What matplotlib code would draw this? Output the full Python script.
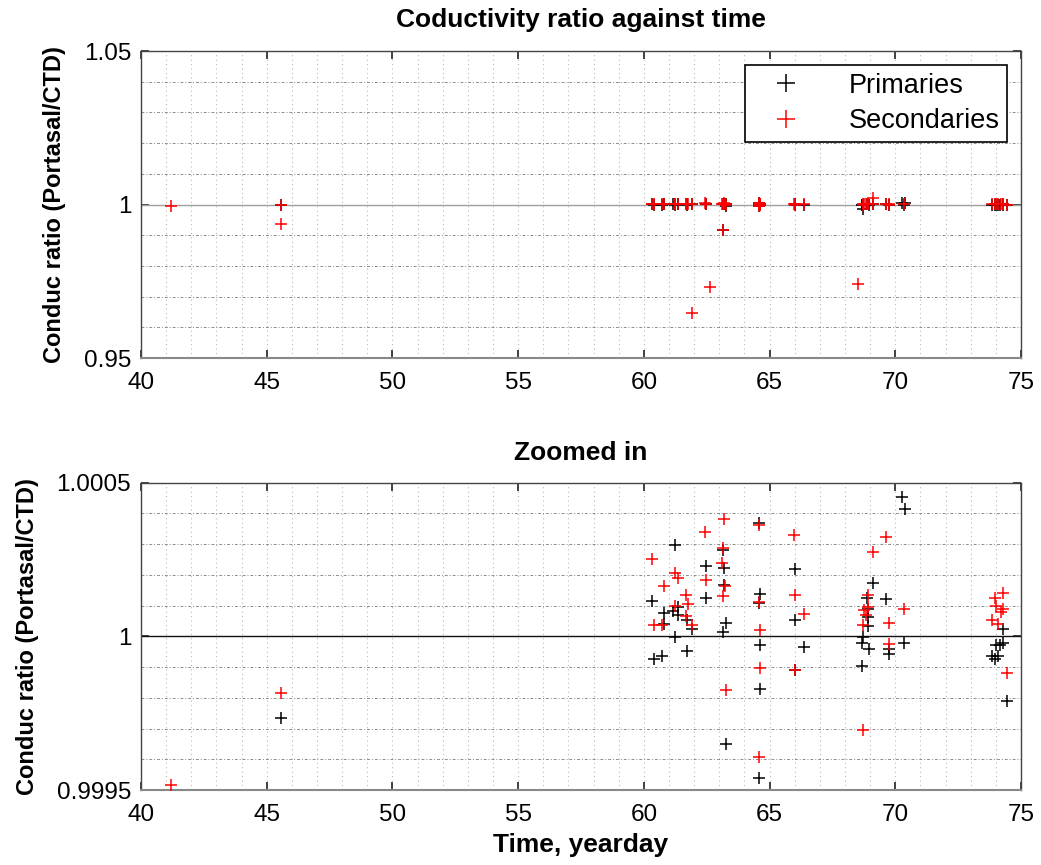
import matplotlib
matplotlib.use("Agg")
import matplotlib.pyplot as plt
from matplotlib.ticker import MultipleLocator

plt.rcParams['font.family'] = ['Liberation Sans', 'DejaVu Sans']

# ---- data (yearday, conductivity ratio Portasal/CTD) ----
prim_t = [45.56, 60.34, 60.40, 60.71, 60.79, 60.79, 61.17, 61.25, 61.25, 61.35,
          61.37, 61.71, 61.71, 61.90, 62.46, 62.46, 63.14, 63.14, 63.19, 63.19,
          63.26, 63.26, 64.56, 64.56, 64.56, 64.62, 64.62, 64.62, 66.00, 66.01,
          66.01, 66.35, 68.69, 68.69, 68.70, 68.86, 68.90, 68.93, 68.93, 68.95,
          69.13, 69.63, 69.73, 69.73, 70.28, 70.35, 70.38, 73.85, 73.97, 74.00,
          74.10, 74.17, 74.27, 74.27, 74.46, 63.14, 68.70]
prim_r = [0.999735, 1.000115, 0.999927, 0.999935, 1.000077, 1.000039, 1.000081, 1.000296, 0.999998, 1.000095,
          1.000068, 1.000052, 0.999952, 1.000023, 1.000228, 1.000126, 1.000280, 1.000014, 1.000223, 1.000166,
          1.000043, 0.999650, 1.000369, 1.000108, 0.999540, 1.000137, 0.999973, 0.999828, 0.999889, 1.000218,
          1.000054, 0.999965, 0.999979, 0.999902, 0.999998, 1.000126, 1.000033, 1.000090, 1.000063, 0.999960,
          1.000172, 1.000123, 0.999959, 0.999943, 1.000452, 0.999979, 1.000413, 0.999936, 0.999927, 0.999973,
          0.999936, 0.999973, 1.000023, 0.999979, 0.999789, 0.991700, 0.998400]

sec_t = [41.18, 45.56, 60.34, 60.40, 60.71, 60.79, 61.24, 61.35, 61.68, 61.76,
         61.24, 61.68, 61.90, 62.45, 62.47, 63.11, 63.14, 63.16, 63.19, 63.24,
         63.26, 64.56, 64.57, 64.56, 64.62, 64.62, 66.00, 65.99, 66.02, 66.35,
         68.71, 68.71, 68.74, 68.84, 68.90, 68.90, 69.13, 69.63, 69.73, 69.73,
         70.35, 73.85, 73.97, 74.01, 74.10, 74.19, 74.27, 74.27, 74.46,
         45.56, 61.90, 62.63, 63.14, 68.50, 69.10]
sec_r = [0.999517, 0.999817, 1.000252, 1.000036, 1.000036, 1.000163, 1.000206, 1.000191, 1.000134, 1.000106,
         1.000098, 1.000065, 1.000038, 1.000338, 1.000182, 1.000237, 1.000131, 1.000286, 1.000383, 1.000165,
         0.999824, 1.000362, 1.000111, 0.999609, 1.000020, 0.999897, 1.000133, 1.000329, 0.999889, 1.000074,
         1.000038, 0.999694, 1.000085, 1.000068, 1.000134, 1.000095, 1.000274, 1.000324, 1.000045, 0.999976,
         1.000088, 1.000054, 1.000126, 1.000098, 1.000041, 1.000079, 1.000141, 1.000090, 0.999880,
         0.993600, 0.964560, 0.973030, 0.991700, 0.974000, 1.002000]

ref_t = [40, 75]
ref_r = [1, 1]

top_ylim = (0.95, 1.05)
top_yticks = [0.95, 1, 1.05]
top_yticklabels = ['0.95', '1', '1.05']
bot_ylim = (0.9995, 1.0005)
bot_yticks = [0.9995, 1, 1.0005]
bot_yticklabels = ['0.9995', '1', '1.0005']
x_ticks = [40, 45, 50, 55, 60, 65, 70, 75]

fig = plt.figure(figsize=(10.41, 8.65), dpi=100)
ax1 = fig.add_axes([0.1354, 0.5861, 0.8454, 0.3549])
ax2 = fig.add_axes([0.1354, 0.0867, 0.8454, 0.3553])


def style(ax, ylim, yticks, yticklabels, ystep, linecolor):
    ax.plot(ref_t, ref_r, color=linecolor, lw=1.0, zorder=1)
    hp, = ax.plot(prim_t, prim_r, '+', color='black', ms=9, mew=1.1, zorder=3, label='Primaries')
    hs, = ax.plot(sec_t, sec_r, '+', color='red', ms=9, mew=1.1, zorder=4, label='Secondaries')
    ax.set_xlim(40, 75)
    ax.set_ylim(*ylim)
    ax.set_xticks(x_ticks)
    ax.set_xticklabels([str(v) for v in x_ticks])
    ax.set_yticks(yticks)
    ax.set_yticklabels(yticklabels)
    ax.xaxis.set_minor_locator(MultipleLocator(1))
    ax.yaxis.set_minor_locator(MultipleLocator(ystep))
    ax.grid(True, which='both', axis='x', color='#b8b8b8', linestyle=(0, (1, 3)), lw=0.8)
    ax.grid(True, which='both', axis='y', color='#8c8c8c', linestyle=(0, (3, 2, 1, 2)), lw=0.7)
    ax.tick_params(axis='both', which='major', direction='in', length=6, width=1.2,
                   top=True, right=True, labelsize=17.5, color='#222222')
    ax.tick_params(axis='x', which='major', pad=10)
    ax.tick_params(axis='y', which='major', pad=7)
    ax.tick_params(axis='both', which='minor', length=0)
    for sp in ax.spines.values():
        sp.set_color('#444444')
        sp.set_linewidth(1.0)
    ax.spines['bottom'].set_color('#888888')
    ax.spines['bottom'].set_linewidth(1.5)
    ax.set_ylabel('Conduc ratio (Portasal/CTD)', fontsize=17, fontweight='bold', labelpad=13)
    ax.set_axisbelow(True)
    return hp, hs


hp, hs = style(ax1, top_ylim, top_yticks, top_yticklabels, 0.01, '#a0a0a0')
style(ax2, bot_ylim, bot_yticks, bot_yticklabels, 0.0001, '#111111')

ax1.set_title('Coductivity ratio against time', fontsize=19, fontweight='bold', pad=17)
ax2.set_title('Zoomed in', fontsize=19, fontweight='bold', pad=16)
ax2.set_xlabel('Time, yearday', fontsize=19, fontweight='bold', labelpad=5)

leg = ax1.legend(handles=[hp, hs], loc='upper right', fontsize=19.5, frameon=True, fancybox=False,
                 edgecolor='black', borderpad=0.3, handlelength=2.4, handletextpad=1.1,
                 labelspacing=0.35, borderaxespad=0.5, markerscale=1.5)
leg.get_frame().set_linewidth(1.2)
leg.get_frame().set_alpha(1)

fig.savefig('out.png', dpi=100)
